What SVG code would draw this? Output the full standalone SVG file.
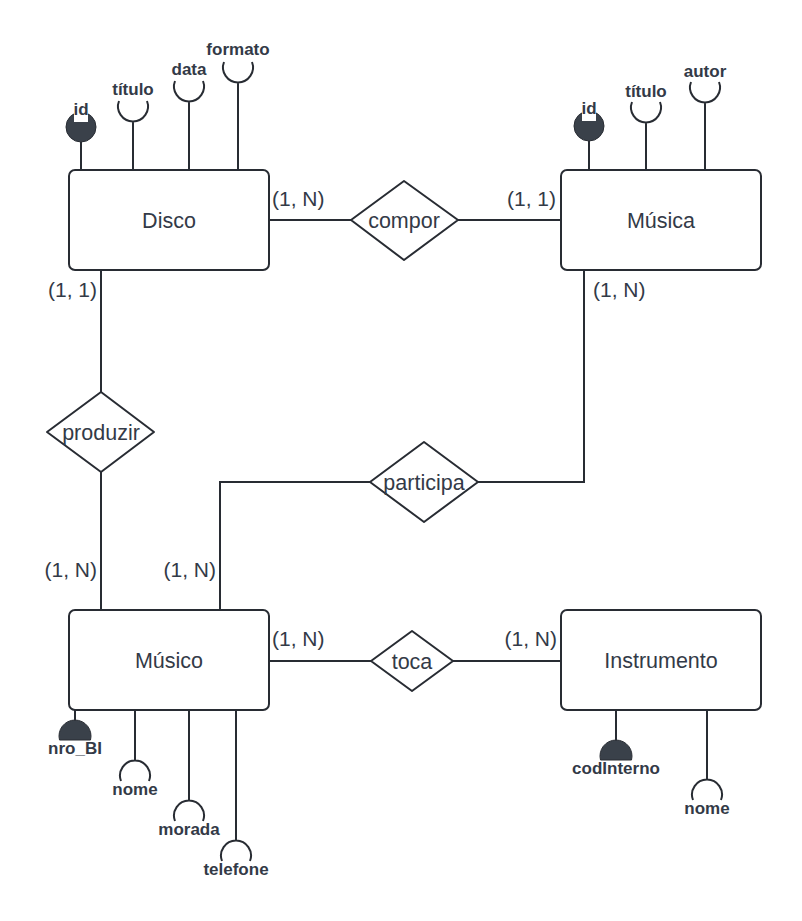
<svg xmlns="http://www.w3.org/2000/svg" width="802" height="921" viewBox="0 0 802 921">
<style>
.ent{fill:#ffffff;stroke:#282c33;stroke-width:2}
.rel{fill:#ffffff;stroke:#282c33;stroke-width:2;stroke-linejoin:round}
.ln{fill:none;stroke:#282c33;stroke-width:2}
.key{fill:#3a414a;stroke:#282c33;stroke-width:1}
.t{font-family:"Liberation Sans",Arial,sans-serif;font-size:21.5px;fill:#333a47;text-anchor:middle}
.c{font-family:"Liberation Sans",Arial,sans-serif;font-size:21px;fill:#333a47}
.a{font-family:"Liberation Sans",Arial,sans-serif;font-size:17px;font-weight:bold;fill:#333a47;text-anchor:middle}
</style>
<rect width="802" height="921" fill="#ffffff"/>
<g id="connectors">
<path class="ln" d="M269,220 H351 M458,220 H561"/>
<path class="ln" d="M101,270 V392 M101,472 V609"/>
<path class="ln" d="M220,609 V482 H370 M478,482 H584 V270"/>
<path class="ln" d="M269,661 H371 M453,661 H561"/>
</g>
<g id="disco-attrs">
<path class="ln" d="M81,142 V170"/>
<circle class="key" cx="81" cy="127" r="15"/>
<rect x="74" y="103" width="14" height="19" fill="#ffffff"/>
<text class="a" x="81" y="115">id</text>
<path class="ln" d="M133,121 V170 M119,101 A15,15 0 1 0 147,101"/>
<text class="a" x="133" y="95">título</text>
<path class="ln" d="M189,101 V170 M175,81 A15,15 0 1 0 203,81"/>
<text class="a" x="189" y="75">data</text>
<path class="ln" d="M238,82 V170 M224,62 A15,15 0 1 0 252,62"/>
<text class="a" x="238" y="55">formato</text>
</g>
<g id="musica-attrs">
<path class="ln" d="M589,141 V170"/>
<circle class="key" cx="589" cy="126" r="15"/>
<rect x="582" y="102" width="14" height="19" fill="#ffffff"/>
<text class="a" x="589" y="114">id</text>
<path class="ln" d="M646,122 V170 M632,102 A15,15 0 1 0 660,102"/>
<text class="a" x="646" y="97">título</text>
<path class="ln" d="M705,102 V170 M691,82 A15,15 0 1 0 719,82"/>
<text class="a" x="705" y="77">autor</text>
</g>
<g id="musico-attrs">
<path class="ln" d="M75,710 V722"/>
<path class="key" d="M59.5,740 A16,16 0 1 1 90.5,740 Z"/>
<text class="a" x="75" y="754">nro_BI</text>
<path class="ln" d="M135,710 V761 M121,781 A15,15 0 1 1 149,781"/>
<text class="a" x="135" y="795">nome</text>
<path class="ln" d="M189,710 V801 M175,821 A15,15 0 1 1 203,821"/>
<text class="a" x="189" y="835">morada</text>
<path class="ln" d="M236,710 V841 M222,861 A15,15 0 1 1 250,861"/>
<text class="a" x="236" y="875">telefone</text>
</g>
<g id="instrumento-attrs">
<path class="ln" d="M616,710 V742"/>
<path class="key" d="M600.5,760 A16,16 0 1 1 631.5,760 Z"/>
<text class="a" x="616" y="774">codInterno</text>
<path class="ln" d="M707,710 V780 M693,800 A15,15 0 1 1 721,800"/>
<text class="a" x="707" y="814">nome</text>
</g>
<g id="disco">
<rect class="ent" x="69" y="170" width="200" height="100" rx="6"/>
<text class="t" x="169" y="228">Disco</text>
</g>
<g id="musica">
<rect class="ent" x="561" y="170" width="200" height="100" rx="6"/>
<text class="t" x="661" y="228">Música</text>
</g>
<g id="musico">
<rect class="ent" x="69" y="610" width="200" height="100" rx="6"/>
<text class="t" x="169" y="668">Músico</text>
</g>
<g id="instrumento">
<rect class="ent" x="561" y="610" width="200" height="100" rx="6"/>
<text class="t" x="661" y="668">Instrumento</text>
</g>
<g id="compor">
<polygon class="rel" points="404,181 458,220 404,260 351,220"/>
<text class="t" x="404" y="228">compor</text>
</g>
<g id="produzir">
<polygon class="rel" points="101,392 154,432 101,472 47,432"/>
<text class="t" x="101" y="440">produzir</text>
</g>
<g id="participa">
<polygon class="rel" points="424,442 478,482 424,522 370,482"/>
<text class="t" x="424" y="490">participa</text>
</g>
<g id="toca">
<polygon class="rel" points="412,631 453,661 412,691 371,661"/>
<text class="t" x="412" y="669">toca</text>
</g>
<g id="cardinalities">
<text class="c" x="272" y="206">(1, N)</text>
<text class="c" x="556" y="206" text-anchor="end">(1, 1)</text>
<text class="c" x="97" y="297" text-anchor="end">(1, 1)</text>
<text class="c" x="593" y="297">(1, N)</text>
<text class="c" x="97" y="577" text-anchor="end">(1, N)</text>
<text class="c" x="216" y="577" text-anchor="end">(1, N)</text>
<text class="c" x="272" y="646">(1, N)</text>
<text class="c" x="557" y="646" text-anchor="end">(1, N)</text>
</g>
</svg>
